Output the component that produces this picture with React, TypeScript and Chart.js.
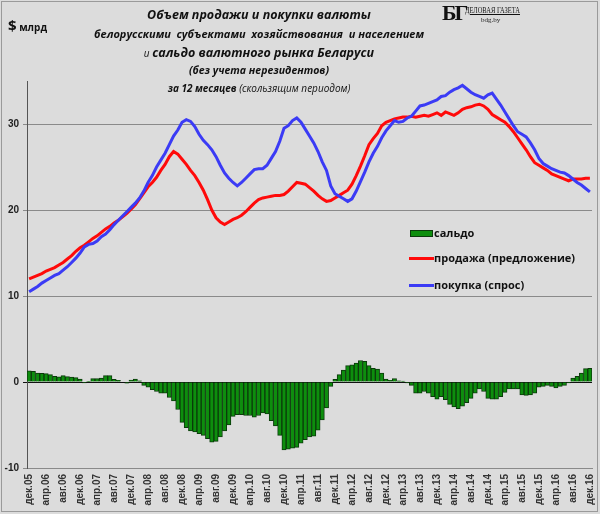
import React, { useEffect, useRef } from "react";
import { Chart, registerables } from "chart.js";

Chart.register(...registerables);

// Month abbreviations (Russian) used to build category labels Dec-2005 .. Dec-2016
const MONTH_NAMES = ["янв", "фев", "мар", "апр", "май", "июн", "июл", "авг", "сен", "окт", "ноя", "дек"];
const START_YEAR = 2005;
const START_MONTH = 11; // December
const N_MONTHS = 133;

const CATEGORIES: string[] = [];
for (let i = 0; i < N_MONTHS; i++) {
  const m = (START_MONTH + i) % 12;
  const y = START_YEAR + Math.floor((START_MONTH + i) / 12);
  CATEGORIES.push(MONTH_NAMES[m] + "." + String(y % 100).padStart(2, "0"));
}

// продажа (предложение), $ bn, 12-month rolling
const SALES = [
  12.0, 12.2, 12.4, 12.6, 12.9, 13.1, 13.3, 13.6, 13.9, 14.3,
  14.7, 15.2, 15.6, 15.9, 16.3, 16.7, 17.0, 17.4, 17.8, 18.1,
  18.5, 18.8, 19.2, 19.6, 20.1, 20.6, 21.3, 22.0, 22.7, 23.2,
  23.8, 24.6, 25.3, 26.2, 26.8, 26.5, 25.9, 25.3, 24.6, 24.0,
  23.2, 22.3, 21.2, 20.0, 19.1, 18.6, 18.3, 18.6, 18.9, 19.1,
  19.4, 19.8, 20.3, 20.8, 21.2, 21.4, 21.5, 21.6, 21.7, 21.7,
  21.8, 22.2, 22.7, 23.2, 23.1, 23.0, 22.6, 22.2, 21.7, 21.3,
  21.0, 21.1, 21.4, 21.7, 22.0, 22.3, 23.0, 24.0, 25.1, 26.3,
  27.6, 28.3, 28.9, 29.8, 30.2, 30.4, 30.6, 30.7, 30.8, 30.8,
  30.9, 30.8, 30.9, 31.0, 30.9, 31.1, 31.3, 31.0, 31.4, 31.2,
  31.0, 31.3, 31.7, 31.9, 32.0, 32.2, 32.3, 32.1, 31.7, 31.1,
  30.8, 30.5, 30.2, 29.7, 29.1, 28.4, 27.7, 27.0, 26.2, 25.5,
  25.2, 24.9, 24.6, 24.2, 24.0, 23.8, 23.6, 23.4, 23.6, 23.6,
  23.6, 23.7, 23.7,
];

// покупка (спрос)
const PURCHASE = [
  10.5, 10.8, 11.1, 11.5, 11.8, 12.1, 12.4, 12.6, 13.0, 13.4,
  13.9, 14.4, 15.0, 15.7, 16.0, 16.1, 16.4, 16.9, 17.2, 17.7,
  18.3, 18.8, 19.3, 19.8, 20.3, 20.8, 21.4, 22.2, 23.2, 24.0,
  25.0, 25.8, 26.6, 27.6, 28.6, 29.3, 30.2, 30.5, 30.3, 29.7,
  28.8, 28.1, 27.6, 27.0, 26.2, 25.2, 24.3, 23.7, 23.2, 22.8,
  23.2, 23.7, 24.2, 24.7, 24.8, 24.8, 25.2, 26.0, 26.8, 28.0,
  29.5, 29.8, 30.4, 30.7, 30.2, 29.4, 28.6, 27.8, 26.8, 25.6,
  24.6, 22.8, 21.9, 21.6, 21.3, 21.0, 21.3, 22.2, 23.3, 24.4,
  25.6, 26.6, 27.4, 28.4, 29.2, 29.8, 30.4, 30.2, 30.3, 30.7,
  30.9, 31.5, 32.1, 32.2, 32.4, 32.6, 32.8, 33.2, 33.3, 33.7,
  34.0, 34.2, 34.5, 34.1, 33.7, 33.4, 33.2, 33.0, 33.4, 33.6,
  32.9, 32.2, 31.4, 30.6, 29.8, 29.1, 28.8, 28.5, 27.8, 27.0,
  26.0, 25.4, 25.1, 24.8, 24.6, 24.4, 24.3, 24.0, 23.6, 23.2,
  22.9, 22.5, 22.1,
];

// сальдо
const SALDO = [
  1.3, 1.25, 1.05, 1.0, 0.97, 0.85, 0.66, 0.6, 0.74, 0.62,
  0.58, 0.5, 0.35, -0.1, 0.04, 0.4, 0.4, 0.46, 0.74, 0.74,
  0.3, 0.2, 0.0, -0.15, 0.23, 0.35, 0.15, -0.4, -0.6, -0.9,
  -1.1, -1.3, -1.3, -1.8, -2.2, -3.2, -4.7, -5.3, -5.7, -5.8,
  -6.0, -6.2, -6.6, -7.0, -6.9, -6.4, -5.7, -5.0, -4.0, -3.8,
  -3.8, -3.9, -3.9, -4.1, -3.9, -3.6, -3.7, -4.5, -5.1, -6.2,
  -7.9, -7.8, -7.7, -7.6, -7.1, -6.7, -6.4, -6.3, -5.6, -4.4,
  -3.0, -0.5, 0.3, 0.85, 1.4, 1.9, 2.0, 2.2, 2.5, 2.4,
  1.9, 1.6, 1.5, 1.05, 0.35, 0.2, 0.4, 0.15, 0.1, -0.1,
  -0.4, -1.3, -1.3, -1.1, -1.3, -1.7, -2.0, -1.7, -2.05, -2.6,
  -2.9, -3.1, -2.8, -2.4, -1.9, -1.3, -0.8, -1.1, -1.9, -2.0,
  -2.0, -1.7, -1.2, -0.8, -0.8, -0.8, -1.5, -1.55, -1.5, -1.3,
  -0.6, -0.5, -0.4, -0.5, -0.7, -0.5, -0.4, -0.1, 0.45, 0.66,
  1.05, 1.55, 1.6,
];

const Y_MIN = -10;
const Y_MAX = 35;
const Y_STEP = 10;
const LABEL_EVERY = 4;

const SERIES_NAMES = ["сальдо", "продажа (предложение)", "покупка (спрос)"];
const GREEN = "#0d8e0d";
const GREEN_BORDER = "#0b3a0b";
const RED = "#ff0a0a";
const BLUE = "#3b3bf5";

export default function App() {
  const canvasRef = useRef<HTMLCanvasElement | null>(null);

  useEffect(() => {
    const canvas = canvasRef.current;
    if (!canvas) return;
    const tickFont = { family: "'Liberation Sans', Arial, sans-serif", size: 10, weight: "bold" as const };
    const chart = new Chart(canvas, {
      type: "bar",
      data: {
        labels: CATEGORIES,
        datasets: [
          {
            type: "bar",
            label: SERIES_NAMES[0],
            data: SALDO,
            backgroundColor: GREEN,
            borderColor: GREEN_BORDER,
            borderWidth: 1,
            barPercentage: 1,
            categoryPercentage: 1,
            order: 3,
          },
          {
            type: "line",
            label: SERIES_NAMES[1],
            data: SALES,
            borderColor: RED,
            backgroundColor: RED,
            borderWidth: 3,
            pointRadius: 0,
            tension: 0,
            order: 2,
          },
          {
            type: "line",
            label: SERIES_NAMES[2],
            data: PURCHASE,
            borderColor: BLUE,
            backgroundColor: BLUE,
            borderWidth: 3,
            pointRadius: 0,
            tension: 0,
            order: 1,
          },
        ] as any,
      },
      options: {
        animation: false,
        responsive: false,
        maintainAspectRatio: false,
        layout: { padding: { top: 81, right: 8, bottom: 6, left: 0 } },
        plugins: { legend: { display: false }, tooltip: { enabled: false }, title: { display: false } },
        scales: {
          x: {
            grid: { display: false, drawTicks: false },
            border: { display: true, color: "#8a8a8a" },
            ticks: {
              autoSkip: false,
              maxRotation: 90,
              minRotation: 90,
              padding: 6,
              color: "#333",
              font: tickFont,
              callback: (_v: any, i: number) => (i % LABEL_EVERY === 0 ? CATEGORIES[i] : ""),
            },
            afterFit: (s: any) => {
              s.height = 40;
              s.paddingLeft = 0;
              s.paddingRight = 0;
            },
          },
          y: {
            min: Y_MIN,
            max: Y_MAX,
            ticks: { stepSize: Y_STEP, includeBounds: false, padding: 4, color: "#222", font: tickFont },
            grid: {
              color: (ctx: any) => (ctx.tick && ctx.tick.value === 0 ? "#111" : "#8a8a8a"),
              tickLength: 4,
              lineWidth: 1,
            },
            border: { display: true, color: "#555" },
            afterFit: (s: any) => {
              s.width = 27;
              s.paddingTop = 0;
              s.paddingBottom = 0;
            },
          },
        },
      } as any,
    });
    return () => chart.destroy();
  }, []);

  const titleFont = "'Open Sans', 'Noto Sans', sans-serif";
  const line = (top: number, h: number, children: React.ReactNode) => (
    <div
      style={{
        position: "absolute",
        left: 0,
        width: 518,
        top: top - h / 2,
        height: h,
        lineHeight: h + "px",
        textAlign: "center",
        fontFamily: titleFont,
        fontStyle: "italic",
        fontWeight: 700,
        color: "#111",
        whiteSpace: "pre",
      }}
    >
      {children}
    </div>
  );

  const legendText: React.CSSProperties = {
    position: "absolute",
    left: 434,
    fontFamily: titleFont,
    fontWeight: 700,
    fontSize: 11,
    color: "#111",
    lineHeight: "14px",
    whiteSpace: "nowrap",
  };

  return (
    <div
      style={{
        position: "absolute",
        left: 0,
        top: 0,
        width: 600,
        height: 514,
        background: "#dcdcdc",
        overflow: "hidden",
      }}
    >
      <div
        style={{
          position: "absolute",
          left: 1,
          top: 1,
          width: 595,
          height: 509,
          border: "1px solid #9a9a9a",
        }}
      />
      <canvas ref={canvasRef} width={600} height={514} style={{ position: "absolute", left: 0, top: 0 }} />

      {line(13, 18, <span style={{ fontSize: 12.5 }}>Объем продажи и покупки валюты</span>)}
      {line(32, 16, <span style={{ fontSize: 11 }}>белорусскими  субъектами  хозяйствования  и населением</span>)}
      {line(
        51,
        18,
        <span>
          <span style={{ fontSize: 10, fontWeight: 400 }}>и </span>
          <span style={{ fontSize: 12.5 }}>сальдо валютного рынка Беларуси</span>
        </span>
      )}
      {line(68, 15, <span style={{ fontSize: 10.5 }}>(без учета нерезидентов)</span>)}
      {line(
        86,
        15,
        <span>
          <span style={{ fontSize: 10 }}>за 12 месяцев </span>
          <span style={{ fontSize: 10, fontWeight: 400 }}>(скользящим периодом)</span>
        </span>
      )}

      <div
        style={{
          position: "absolute",
          left: 8,
          top: 16,
          fontFamily: titleFont,
          fontWeight: 700,
          color: "#111",
          whiteSpace: "nowrap",
          lineHeight: "18px",
        }}
      >
        <span style={{ fontSize: 15 }}>$</span>
        <span style={{ fontSize: 10 }}> млрд</span>
      </div>

      {/* logo */}
      <div
        style={{
          position: "absolute",
          left: 442,
          top: 0,
          fontFamily: "'Liberation Serif', serif",
          fontWeight: 700,
          fontSize: 22,
          lineHeight: "26px",
          color: "#111",
          letterSpacing: -2,
        }}
      >
        БГ
      </div>
      <div
        style={{
          position: "absolute",
          left: 465,
          top: 5,
          fontFamily: "'Liberation Serif', serif",
          fontSize: 9,
          lineHeight: "11px",
          color: "#111",
          textDecoration: "underline",
          whiteSpace: "nowrap",
          transform: "scaleX(0.72)",
          transformOrigin: "left center",
        }}
      >
        ДЕЛОВАЯ ГАЗЕТА
      </div>
      <div
        style={{
          position: "absolute",
          left: 481,
          top: 16,
          fontFamily: "'Liberation Serif', serif",
          fontSize: 7,
          lineHeight: "9px",
          color: "#222",
        }}
      >
        bdg.by
      </div>

      {/* legend */}
      <div
        style={{
          position: "absolute",
          left: 410,
          top: 230,
          width: 21,
          height: 5,
          background: GREEN,
          border: "1px solid " + GREEN_BORDER,
        }}
      />
      <div style={{ ...legendText, top: 226 }}>{SERIES_NAMES[0]}</div>
      <div style={{ position: "absolute", left: 409, top: 257, width: 25, height: 3, background: RED }} />
      <div style={{ ...legendText, top: 251 }}>{SERIES_NAMES[1]}</div>
      <div style={{ position: "absolute", left: 409, top: 284, width: 25, height: 3, background: BLUE }} />
      <div style={{ ...legendText, top: 278 }}>{SERIES_NAMES[2]}</div>
    </div>
  );
}
